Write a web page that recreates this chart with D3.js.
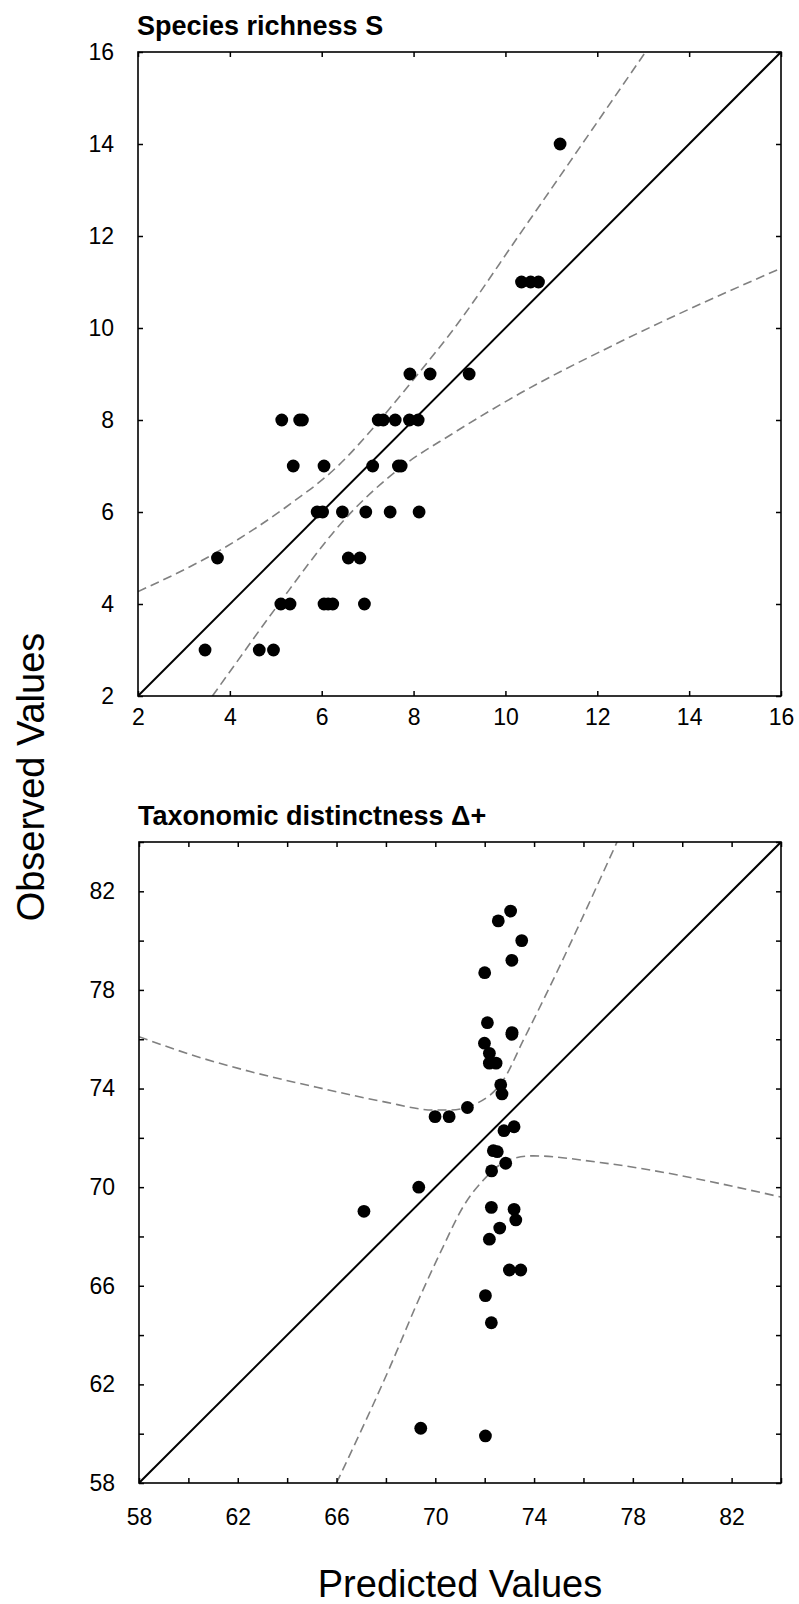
<!DOCTYPE html>
<html>
<head>
<meta charset="utf-8">
<script src="https://cdn.jsdelivr.net/npm/d3@7"></script>
<style>
  html, body { margin: 0; padding: 0; background: #fff; }
  svg { display: block; font-family: "Liberation Sans", Arial, sans-serif; }
</style>
</head>
<body>
<svg id="chart" width="799" height="1604"></svg>
<script>
// ---------- Panel A: Species richness S ----------
const sPred = [5.13, 5.52, 5.58, 7.23, 7.34, 7.60, 7.91, 8.10,
               5.38, 6.05, 7.11, 7.67, 7.73,
               5.90, 6.02, 6.45, 6.96, 7.49, 8.12,
               3.73, 6.58, 6.83,
               5.11, 5.31, 6.05, 6.14, 6.24, 6.93,
               3.46, 4.64, 4.95,
               7.92, 8.36, 9.21,
               10.35, 10.55, 10.72,
               11.19];
const sObs  = [8, 8, 8, 8, 8, 8, 8, 8,
               7, 7, 7, 7, 7,
               6, 6, 6, 6, 6, 6,
               5, 5, 5,
               4, 4, 4, 4, 4, 4,
               3, 3, 3,
               9, 9, 9,
               11, 11, 11,
               14];
const sUpperX = [2.0, 3.79, 5.24, 6.33, 7.27, 7.63, 7.99, 8.86, 10.32, 13.05];
const sUpperY = [4.27, 5.17, 6.12, 6.98, 8.0, 8.43, 8.87, 9.96, 12.05, 16.0];
const sLowerX = [3.62, 4.18, 5.02, 6.62, 7.70, 8.86, 10.32, 12.5, 16.0];
const sLowerY = [2.0, 2.78, 3.94, 5.97, 6.95, 7.71, 8.58, 9.7, 11.3];
const sTicks = [2, 4, 6, 8, 10, 12, 14, 16];

// ---------- Panel B: Taxonomic distinctness Δ+ ----------
const tPred = [73.05, 72.55, 73.10, 72.00, 73.50, 73.10,
               72.11, 73.11, 71.99, 72.19, 72.19, 72.46, 72.65, 72.70,
               71.30, 69.99, 70.56, 73.19, 72.78, 72.35, 72.51, 72.85, 72.28,
               69.33, 67.11, 72.27, 73.19, 73.26, 72.61, 72.19,
               73.00, 73.46, 72.03, 72.27, 69.41, 72.03];
const tObs  = [81.2, 80.8, 79.2, 78.7, 80.0, 76.2,
               76.67, 76.27, 75.84, 75.43, 75.03, 75.03, 74.15, 73.78,
               73.23, 72.86, 72.86, 72.45, 72.29, 71.48, 71.44, 70.97, 70.66,
               70.0, 69.02, 69.18, 69.10, 68.67, 68.34, 67.89,
               66.64, 66.64, 65.6, 64.50, 60.22, 59.91];
const tUpperX = [58, 60.5, 62.5, 65.2, 67.89, 69.92, 70.59, 71.68, 72.76, 73.57, 74.38, 77.36];
const tUpperY = [76.1, 75.25, 74.69, 74.05, 73.47, 73.13, 73.13, 73.40, 74.35, 75.97, 77.6, 84];
const tLowerX = [66.0, 68.17, 69.38, 70.32, 71.13, 71.95, 73.03, 73.97, 76.67, 84];
const tLowerY = [58, 62.72, 65.56, 67.59, 69.21, 70.29, 71.13, 71.27, 71.0, 69.6];
const tMinorTicks = [58, 60, 62, 64, 66, 68, 70, 72, 74, 76, 78, 80, 82, 84];
const tLabelTicks = [58, 62, 66, 70, 74, 78, 82];

// ---------- drawing ----------
const svg = d3.select("#chart");
const TICK_FONT = 23;

function panel(cfg) {
  const { id, x0, x1, y0, y1, domain, pred, obs, upX, upY, loX, loY, minor, labels, title, xPad } = cfg;
  const x = d3.scaleLinear().domain(domain).range([x0, x1]);
  const y = d3.scaleLinear().domain(domain).range([y1, y0]);
  const g = svg.append("g");

  g.append("clipPath").attr("id", id)
    .append("rect").attr("x", x0).attr("y", y0).attr("width", x1 - x0).attr("height", y1 - y0);

  const plot = g.append("g").attr("clip-path", `url(#${id})`);

  // 1:1 line
  plot.append("line")
    .attr("x1", x(domain[0])).attr("y1", y(domain[0]))
    .attr("x2", x(domain[1])).attr("y2", y(domain[1]))
    .attr("stroke", "#000").attr("stroke-width", 2);

  const line = d3.line().x(d => x(d[0])).y(d => y(d[1])).curve(d3.curveMonotoneX);
  [[upX, upY], [loX, loY]].forEach(([xs, ys]) => {
    plot.append("path")
      .attr("d", line(xs.map((v, i) => [v, ys[i]])))
      .attr("fill", "none").attr("stroke", "#808080")
      .attr("stroke-width", 1.6).attr("stroke-dasharray", "9,5");
  });

  // points
  plot.selectAll("circle").data(pred.map((v, i) => [v, obs[i]])).join("circle")
    .attr("cx", d => x(d[0])).attr("cy", d => y(d[1])).attr("r", 6.4).attr("fill", "#000");

  // axes with inward ticks on all 4 sides
  const tl = 5;
  const fmt = v => labels.includes(v) ? String(v) : "";
  const bottomAx = g.append("g").attr("transform", `translate(0,${y1})`)
    .call(d3.axisBottom(x).tickValues(minor).tickSize(-tl).tickPadding(xPad).tickFormat(fmt));
  const topAx = g.append("g").attr("transform", `translate(0,${y0})`)
    .call(d3.axisTop(x).tickValues(minor).tickSize(-tl).tickFormat(""));
  const leftAx = g.append("g").attr("transform", `translate(${x0},0)`)
    .call(d3.axisLeft(y).tickValues(minor).tickSize(-tl).tickPadding(24).tickFormat(fmt));
  const rightAx = g.append("g").attr("transform", `translate(${x1},0)`)
    .call(d3.axisRight(y).tickValues(minor).tickSize(-tl).tickFormat(""));
  [bottomAx, topAx, leftAx, rightAx].forEach(a => {
    a.select(".domain").remove();
    a.selectAll(".tick line").attr("stroke", "#000").attr("stroke-width", 1.5);
    a.selectAll("text").attr("font-size", TICK_FONT).attr("fill", "#000")
      .attr("font-family", "'Liberation Sans', Arial, sans-serif");
  });
  // frame
  g.append("rect").attr("x", x0).attr("y", y0).attr("width", x1 - x0).attr("height", y1 - y0)
    .attr("fill", "none").attr("stroke", "#000").attr("stroke-width", 1.6);

  g.append("text").attr("x", x0 - 1).attr("y", y0 - 17)
    .attr("font-size", 27).attr("font-weight", "bold").attr("fill", "#000")
    .text(title);
}

panel({ id: "clipA", x0: 138, x1: 781, y0: 52, y1: 696, domain: [2, 16],
        pred: sPred, obs: sObs, upX: sUpperX, upY: sUpperY, loX: sLowerX, loY: sLowerY,
        minor: sTicks, labels: sTicks, title: "Species richness S", xPad: 13 });

panel({ id: "clipB", x0: 139, x1: 781, y0: 842, y1: 1483, domain: [58, 84],
        pred: tPred, obs: tObs, upX: tUpperX, upY: tUpperY, loX: tLowerX, loY: tLowerY,
        minor: tMinorTicks, labels: tLabelTicks, title: "Taxonomic distinctness \u0394+", xPad: 26 });

// axis titles
svg.append("text").attr("transform", "translate(44,777) rotate(-90)")
  .attr("text-anchor", "middle").attr("font-size", 38).attr("fill", "#000")
  .text("Observed Values");
svg.append("text").attr("x", 460).attr("y", 1597)
  .attr("text-anchor", "middle").attr("font-size", 38).attr("fill", "#000")
  .text("Predicted Values");
</script>
</body>
</html>
